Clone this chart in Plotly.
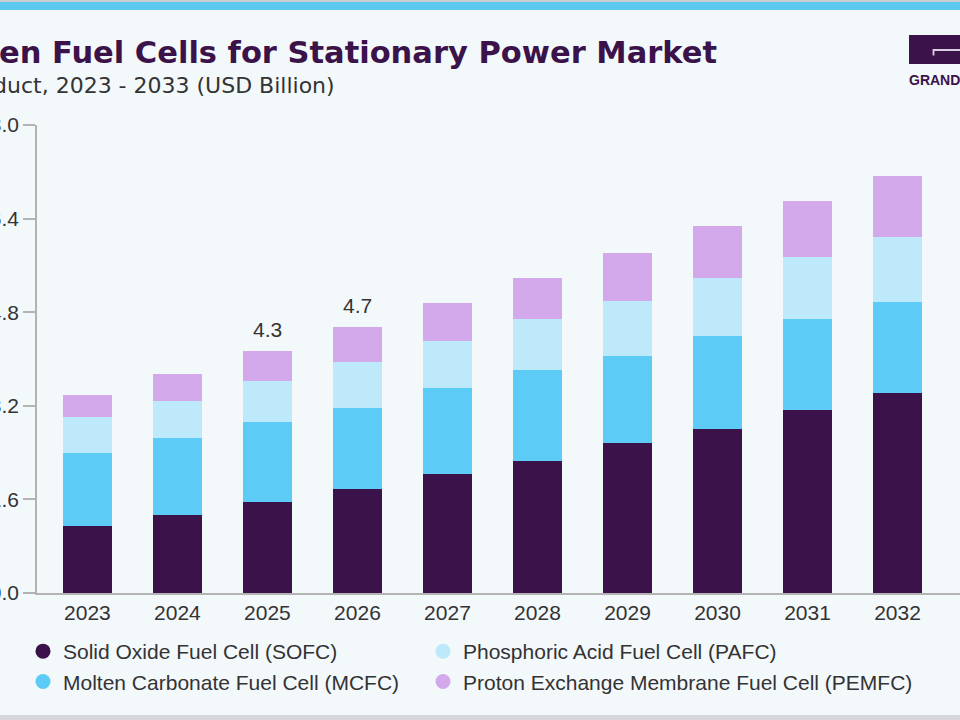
import plotly.graph_objects as go

# ---------------- data ----------------
years = ["2023", "2024", "2025", "2026", "2027", "2028", "2029", "2030", "2031", "2032"]
sofc = [1.14, 1.34, 1.56, 1.77, 2.03, 2.25, 2.56, 2.81, 3.12, 3.42]
mcfc = [1.25, 1.31, 1.37, 1.40, 1.48, 1.56, 1.49, 1.58, 1.57, 1.56]
pafc = [0.62, 0.63, 0.70, 0.78, 0.80, 0.87, 0.95, 0.99, 1.05, 1.11]
pemfc = [0.38, 0.46, 0.51, 0.60, 0.64, 0.70, 0.82, 0.89, 0.96, 1.04]

series_names = [
    "Solid Oxide Fuel Cell (SOFC)",
    "Molten Carbonate Fuel Cell (MCFC)",
    "Phosphoric Acid Fuel Cell (PAFC)",
    "Proton Exchange Membrane Fuel Cell (PEMFC)",
]
labeled_years = ["2025", "2026"]
total_labels = ["4.3", "4.7"]
y_tick_values = [0.0, 1.6, 3.2, 4.8, 6.4, 8.0]
y_tick_text = ["0.0", "1.6", "3.2", "4.8", "6.4", "8.0"]

title_text = "Hydrogen Fuel Cells for Stationary Power Market"
subtitle_text = "Size, by Product, 2023 - 2033 (USD Billion)"

# ---------------- style ----------------
colors = ["#3b1249", "#5ccbf5", "#bee9fa", "#d3a9ec"]
bg = "#f3f8fb"
axis_gray = "#b3b3b3"
text_gray = "#333333"
purple = "#3b1249"
FONT = "Liberation Sans, Arial, sans-serif"

W, H = 960, 720
ML, MR, MT, MB = 37, 0, 125, 127
PW, PH = W - ML - MR, H - MT - MB


def px_x(px):
    return (px - ML) / PW


def px_y(py):
    return (H - MB - py) / PH


fig = go.Figure()

stack = [sofc, mcfc, pafc, pemfc]
for name, vals, col in zip(series_names, stack, colors):
    fig.add_trace(go.Bar(
        x=years, y=vals, name=name, marker=dict(color=col, line=dict(width=0)),
        width=0.55, showlegend=False, hoverinfo="x+y+name",
    ))

# legend-only circle markers: column 1 (SOFC, MCFC), column 2 (PAFC, PEMFC)
legend_of = ["legend", "legend", "legend2", "legend2"]
for idx in range(4):
    fig.add_trace(go.Scatter(
        x=[None], y=[None], mode="markers", name=series_names[idx],
        marker=dict(color=colors[idx], size=15, symbol="circle"),
        showlegend=True, legend=legend_of[idx],
    ))

# total labels
annotations = []
for yr, lab in zip(labeled_years, total_labels):
    i = years.index(yr)
    total = sofc[i] + mcfc[i] + pafc[i] + pemfc[i]
    annotations.append(dict(
        x=i, y=total, xref="x", yref="y", text=lab, showarrow=False,
        yanchor="bottom", yshift=8, font=dict(family=FONT, size=21, color=text_gray),
    ))

# title & subtitle (the reference is cropped on the left)
annotations.append(dict(
    x=px_x(719), y=px_y(52), xref="paper", yref="paper", text="<b>" + title_text + "</b>",
    showarrow=False, xanchor="right", yanchor="middle",
    font=dict(family="DejaVu Sans, sans-serif", size=30.5, color=purple),
))
annotations.append(dict(
    x=px_x(337), y=px_y(85), xref="paper", yref="paper", text=subtitle_text,
    showarrow=False, xanchor="right", yanchor="middle",
    font=dict(family="DejaVu Sans, sans-serif", size=22, color=text_gray),
))
# logo text
annotations.append(dict(
    x=px_x(907), y=px_y(80), xref="paper", yref="paper", text="<b>GRAND VIEW RESEARCH</b>",
    showarrow=False, xanchor="left", yanchor="middle",
    font=dict(family=FONT, size=14, color=purple),
))

shapes = [
    # top stripe
    dict(type="rect", xref="paper", yref="paper", x0=px_x(0), x1=px_x(W), y0=px_y(0), y1=px_y(2),
         fillcolor="#c9ccd0", line=dict(width=0), layer="above"),
    dict(type="rect", xref="paper", yref="paper", x0=px_x(0), x1=px_x(W), y0=px_y(2), y1=px_y(10),
         fillcolor="#5bc8f0", line=dict(width=0), layer="above"),
    # bottom band
    dict(type="rect", xref="paper", yref="paper", x0=px_x(0), x1=px_x(W), y0=px_y(715), y1=px_y(720),
         fillcolor="#d5d7da", line=dict(width=0), layer="above"),
    # logo block
    dict(type="rect", xref="paper", yref="paper", x0=px_x(909), x1=px_x(975), y0=px_y(35), y1=px_y(64),
         fillcolor=purple, line=dict(width=0), layer="above"),
    dict(type="path", xref="paper", yref="paper",
         path=f"M {px_x(933.5)},{px_y(55.5)} L {px_x(933.5)},{px_y(50)} L {px_x(965)},{px_y(50)}",
         line=dict(color="#d9cfe3", width=1.8), layer="above"),
]

legend_common = dict(
    orientation="v", xanchor="left", yanchor="top",
    font=dict(family=FONT, size=21, color=text_gray),
    bgcolor="rgba(0,0,0,0)", itemclick=False, itemdoubleclick=False,
    traceorder="normal", tracegroupgap=0,
)

fig.update_layout(
    width=W, height=H,
    margin=dict(l=ML, r=MR, t=MT, b=MB, autoexpand=False),
    paper_bgcolor=bg, plot_bgcolor=bg,
    barmode="stack",
    font=dict(family=FONT, size=21, color=text_gray),
    showlegend=True,
    legend=dict(x=px_x(23), y=px_y(631), **legend_common),
    legend2=dict(x=px_x(423), y=px_y(631), **legend_common),
    xaxis=dict(
        type="category", range=[-0.56, 9.694], showline=True, linecolor=axis_gray, linewidth=1.5,
        ticks="", showgrid=False, zeroline=False, automargin=False,
        tickfont=dict(family=FONT, size=21, color=text_gray), fixedrange=True,
    ),
    yaxis=dict(
        range=[0, 8.0], tickvals=y_tick_values, ticktext=y_tick_text,
        showline=True, linecolor=axis_gray, linewidth=1.5,
        ticks="outside", ticklen=12, tickwidth=1.5, tickcolor=axis_gray,
        showgrid=False, zeroline=False, automargin=False,
        tickfont=dict(family=FONT, size=21, color=text_gray), fixedrange=True,
    ),
    annotations=annotations,
    shapes=shapes,
)

fig.write_html(
    "out.html",
    config={"displayModeBar": False},
    post_script="document.body.style.margin='0';document.body.style.overflow='hidden';",
)
